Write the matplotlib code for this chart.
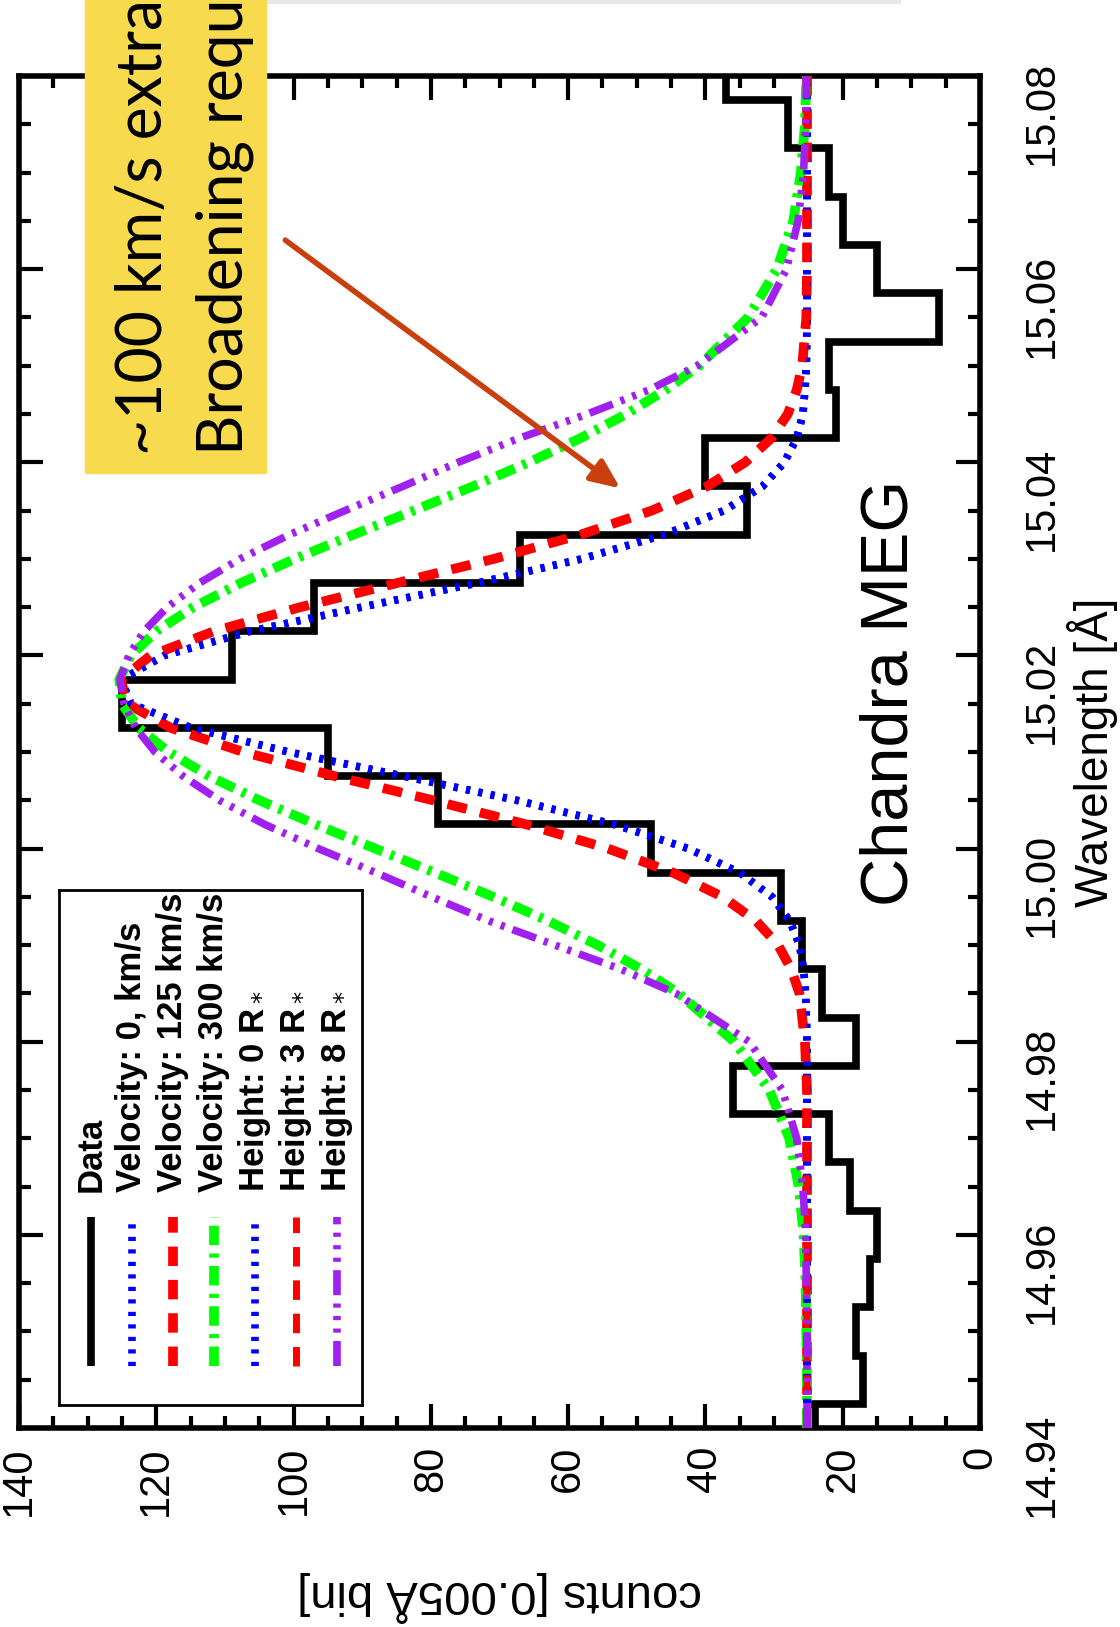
import numpy as np
import matplotlib
matplotlib.use("Agg")
import matplotlib.pyplot as plt
from matplotlib.patches import Rectangle
from matplotlib.ticker import MultipleLocator, FormatStrFormatter

plt.rcParams['font.family'] = ['Liberation Sans Narrow', 'Liberation Sans', 'DejaVu Sans']
plt.rcParams['lines.scale_dashes'] = False

# MEG spectrum, 0.005 A bins; first bin starts at 14.9375 A
bin_start = 14.9375
bin_width = 0.005
meg_counts = [24, 17, 18, 16, 15, 19, 22, 36, 18, 23, 26, 29, 48, 79, 95,
              125, 109, 97, 67, 34, 40, 21, 22, 6, 15, 20, 22, 28, 37]

# model line profiles, sampled on a common wavelength grid
model_wl = [14.940, 14.945, 14.950, 14.955, 14.960, 14.965, 14.970, 14.975, 14.980,
            14.985, 14.9875, 14.990, 14.9925, 14.995, 14.9975, 15.000, 15.0025,
            15.005, 15.0075, 15.010, 15.0125, 15.015, 15.0175, 15.020, 15.0225,
            15.025, 15.0275, 15.030, 15.0325, 15.035, 15.0375, 15.040, 15.0425,
            15.045, 15.0475, 15.050, 15.055, 15.060, 15.065, 15.070, 15.075, 15.080]

vel_0 = [25.2, 25.2, 25.2, 25.2, 25.2, 25.2, 25.2, 25.2, 25.2,
         25.4, 25.7, 26.3, 27.7, 30.3, 35.0, 42.5, 53.3,
         67.5, 84.0, 100.7, 114.9, 123.7, 125.1, 118.8, 106.3,
         90.1, 73.2, 58.0, 46.0, 37.3, 31.7, 28.5, 26.7,
         25.8, 25.5, 25.3, 25.2, 25.2, 25.2, 25.2, 25.2, 25.2]

vel_125 = [25.2, 25.2, 25.2, 25.2, 25.2, 25.2, 25.2, 25.2, 25.5,
           26.3, 27.5, 29.4, 32.6, 37.5, 44.7, 54.2, 66.1,
           79.7, 94.0, 107.3, 117.9, 124.2, 125.2, 120.8, 111.6,
           99.0, 84.9, 70.8, 58.2, 47.8, 39.8, 34.2, 30.4,
           28.0, 26.7, 25.9, 25.3, 25.2, 25.2, 25.2, 25.2, 25.2]

vel_300 = [25.2, 25.2, 25.3, 25.4, 25.7, 26.4, 27.8, 30.7, 35.8,
           43.9, 49.3, 55.7, 62.9, 70.9, 79.4, 88.1, 96.8,
           105.0, 112.3, 118.2, 122.6, 125.0, 125.4, 123.7, 120.0,
           114.6, 107.7, 99.8, 91.3, 82.5, 73.9, 65.7, 58.2,
           51.5, 45.8, 40.9, 33.8, 29.6, 27.2, 26.1, 25.5, 25.3]

height_0 = vel_0
height_3 = vel_125
height_8 = [25.2, 25.2, 25.2, 25.3, 25.4, 25.8, 26.7, 28.8, 33.6,
            44.3, 52.3, 61.9, 71.5, 79.9, 88.0, 96.4, 104.2,
            110.8, 116.1, 120.2, 123.0, 124.7, 125.3, 124.0, 121.8,
            118.4, 113.7, 107.8, 100.6, 92.5, 84.1, 76.0, 67.1,
            57.2, 48.2, 41.2, 31.8, 28.2, 26.5, 25.7, 25.4, 25.3]

labels = ["Data", "Velocity: 0, km/s", "Velocity: 125 km/s", "Velocity: 300 km/s",
          "Height: 0 R$_*$", "Height: 3 R$_*$", "Height: 8 R$_*$"]

styles = [
    dict(color='black', lw=5.5, linestyle='-'),
    dict(color='#0000FF', lw=5.5, linestyle=(0, (3, 6))),
    dict(color='#FF0000', lw=7, linestyle=(0, (14, 10))),
    dict(color='#00FF00', lw=7, linestyle=(0, (14, 6, 3, 6))),
    dict(color='#0000FF', lw=5.5, linestyle=(0, (3, 6))),
    dict(color='#FF0000', lw=5, linestyle=(0, (14, 10))),
    dict(color='#A020F0', lw=5.5, linestyle=(0, (18, 6, 3, 6, 3, 6, 3, 6))),
]
models = [vel_0, vel_125, vel_300, height_0, height_3, height_8]

W, H = 1120, 1627
fig = plt.figure(figsize=(W / 100, H / 100), dpi=100)
ax = fig.add_axes([19 / W, (H - 1428) / H, 961 / W, 1352 / H])

# counts run along the horizontal, wavelength along the vertical
edges = bin_start + bin_width * np.arange(len(meg_counts) + 1)
ax.stairs(meg_counts, edges, orientation='horizontal', baseline=None,
          color='black', lw=5.5, joinstyle='miter', zorder=2)
for counts, st in zip(models, styles[1:]):
    ax.plot(counts, model_wl, zorder=3, **st)

ax.set_xlim(140, 0)
ax.set_ylim(14.94, 15.08)
ax.xaxis.set_major_locator(MultipleLocator(20))
ax.xaxis.set_minor_locator(MultipleLocator(5))
ax.yaxis.set_major_locator(MultipleLocator(0.02))
ax.yaxis.set_minor_locator(MultipleLocator(0.005))
ax.yaxis.set_major_formatter(FormatStrFormatter('%.2f'))

for s in ax.spines.values():
    s.set_linewidth(4)
ax.tick_params(which='both', direction='in', top=True, bottom=True, left=True, right=True,
               labelleft=False, labelright=True, labelsize=30)
ax.tick_params(which='major', length=17, width=3)
ax.tick_params(which='minor', length=8.5, width=3)
ax.tick_params(axis='x', labelrotation=90, pad=13)
ax.tick_params(axis='y', labelrotation=90, pad=30)

ax.set_xlabel('counts [0.005Å bin]', rotation=180, fontsize=34,
              family='Liberation Sans', labelpad=40)
ax.yaxis.set_label_position('right')
ax.set_ylabel('Wavelength [Å]', fontsize=33, family='Liberation Sans', labelpad=4)

ax.text(13.1, 15.0161, 'Chandra MEG', rotation=90, ha='center', va='center',
        fontsize=48, family='Liberation Sans')

ax.annotate('', xy=(52.4, 15.0373), xytext=(101.2, 15.0630),
            arrowprops=dict(arrowstyle='-|>,head_length=0.8,head_width=0.35',
                            color='#C9400C', lw=4, mutation_scale=22,
                            shrinkA=0, shrinkB=0),
            annotation_clip=False, zorder=4)

# legend drawn in its own small axes, entries laid out as columns
leg = fig.add_axes([59 / W, (H - 1405) / H, 303 / W, 515 / H])
leg.set_xlim(0, 303)
leg.set_ylim(0, 515)
leg.set_xticks([])
leg.set_yticks([])
for s in leg.spines.values():
    s.set_linewidth(2)
for i, (lab, st) in enumerate(zip(labels, styles)):
    x = 32 + 41 * i
    leg.plot([x, x], [39, 188], solid_capstyle='butt', **st)
    leg.text(x, 213, lab, rotation=90, rotation_mode='anchor', ha='left',
             va='center', fontsize=25, fontweight='bold')

# note box at the top
fig.add_artist(Rectangle((260 / W, 1 - 3 / H), 640 / W, 3 / H,
                         transform=fig.transFigure, color='#E8E8E8', zorder=4))
fig.add_artist(Rectangle((85 / W, (H - 473) / H), 181 / W, 0.31,
                         transform=fig.transFigure, color='#F8DA4E', zorder=5))
fig.text(162 / W, (H - 455) / H, '~100 km/s extra', rotation=90, rotation_mode='anchor',
         ha='left', va='baseline', fontsize=45, family='Lato', zorder=6)
fig.text(243 / W, (H - 455) / H, 'Broadening required', rotation=90, rotation_mode='anchor',
         ha='left', va='baseline', fontsize=45, family='Lato', zorder=6)

fig.savefig('out.png', dpi=100)
